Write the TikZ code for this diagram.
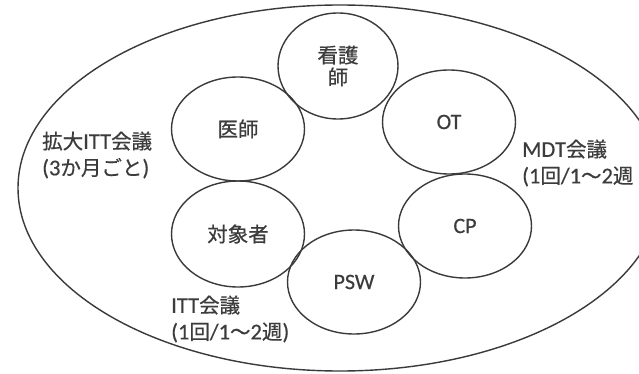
\documentclass[tikz,border=0pt]{standalone}
\usepackage{fontspec}
\usetikzlibrary{shapes.geometric}
\setmainfont{Carlito}[FakeBold=0.4]
\newfontfamily\cjk{Noto Sans CJK JP}[FakeBold=0.6]
\newcommand{\J}[1]{{\cjk\fontsize{20.5}{25}\selectfont #1}}
\definecolor{ink}{HTML}{3A3A3A}
\definecolor{txt}{HTML}{3C3C3C}
\tikzset{
  member/.style={draw=ink, line width=1.4pt, ellipse, inner sep=0pt,
    minimum width=133pt, minimum height=104pt, text=txt, align=center,
    font=\fontsize{22}{25}\selectfont},
  team/.style={draw=ink, line width=1.4pt, ellipse, inner sep=0pt,
    minimum width=644pt, minimum height=366pt},
  meeting/.style={text=txt, align=left, inner sep=0pt, anchor=west,
    font=\fontsize{22.5}{26.5}\selectfont}
}
\begin{document}
\begin{tikzpicture}[x=1pt,y=-1pt]
\useasboundingbox (0,0) rectangle (639,374);
\clip (0,0) rectangle (639,374);
\fill[white] (0,0) rectangle (639,374);
\node[team] (all) at (340,188) {};
\node[member, minimum width=120pt, minimum height=106pt] (nurse) at (338,66) {\J{看護}\\[-3pt]\J{師}};
\node[member] (doctor) at (238,129) {\J{医師}};
\node[member] (ot) at (449,122) {OT};
\node[member] (cp) at (465,226) {CP};
\node[member, minimum height=106pt] (client) at (238,234) {\J{対象者}};
\node[member] (psw) at (354,282) {PSW};
\node[meeting] (ext) at (42,155) {\J{拡大}ITT\J{会議}\\(3\J{か月ごと})};
\node[meeting] (mdt) at (522,163) {MDT\J{会議}\\(1\J{回}/1\J{～}2\J{週}};
\node[meeting] (itt) at (171,319) {ITT\J{会議}\\(1\J{回}/1\J{～}2\J{週})};
\end{tikzpicture}
\end{document}
